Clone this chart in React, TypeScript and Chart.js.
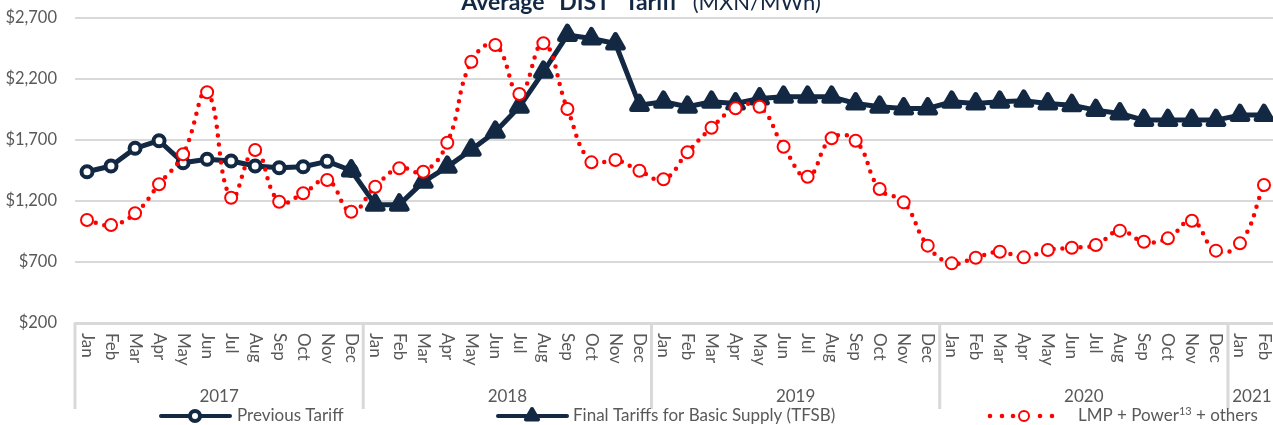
import React, { useEffect, useRef } from 'react';
import { Chart, registerables } from 'chart.js';

Chart.register(...registerables);

const months = [
  'Jan', 'Feb', 'Mar', 'Apr', 'May', 'Jun', 'Jul', 'Aug', 'Sep', 'Oct', 'Nov', 'Dec',
  'Jan', 'Feb', 'Mar', 'Apr', 'May', 'Jun', 'Jul', 'Aug', 'Sep', 'Oct', 'Nov', 'Dec',
  'Jan', 'Feb', 'Mar', 'Apr', 'May', 'Jun', 'Jul', 'Aug', 'Sep', 'Oct', 'Nov', 'Dec',
  'Jan', 'Feb', 'Mar', 'Apr', 'May', 'Jun', 'Jul', 'Aug', 'Sep', 'Oct', 'Nov', 'Dec',
  'Jan', 'Feb',
];
const yearLabels = ['2017', '2018', '2019', '2020', '2021'];
const yearSpans = [12, 12, 12, 12, 2];

const previousTariff = [
  1440, 1487, 1632, 1694, 1514, 1542, 1528, 1487, 1473, 1481, 1525, 1450,
  null, null, null, null, null, null, null, null, null, null, null, null,
  null, null, null, null, null, null, null, null, null, null, null, null,
  null, null, null, null, null, null, null, null, null, null, null, null,
  null, null,
];
const finalTariffs = [
  null, null, null, null, null, null, null, null, null, null, null, 1450,
  1170, 1170, 1357, 1480, 1620, 1767, 1972, 2259, 2560, 2532, 2491, 1986,
  2013, 1972, 2013, 1999, 2040, 2054, 2054, 2054, 1999, 1972, 1958, 1958,
  2013, 1999, 2013, 2021, 1999, 1985, 1945, 1917, 1863, 1863, 1863, 1863,
  1904, 1904,
];
const lmpPowerOthers = [
  1044, 1003, 1099, 1337, 1583, 2091, 1227, 1618, 1194, 1263, 1372, 1112,
  1317, 1468, 1440, 1678, 2342, 2479, 2077, 2493, 1954, 1517, 1536, 1448,
  1378, 1599, 1801, 1960, 1973, 1645, 1399, 1714, 1694, 1298, 1189, 834,
  689, 735, 784, 738, 798, 817, 839, 957, 866, 894, 1038, 793,
  853, 1331,
];

const NAVY = '#132843';
const RED = '#ff0000';
const GRAY_TEXT = '#595959';
const GRID = '#d9d9d9';
const FONT = 'Lato';

const decorPlugin = {
  id: 'decor',
  beforeDatasetsDraw(chart: any) {
    chart.ctx.lineJoin = 'round';
  },
  afterDraw(chart: any) {
    const ctx = chart.ctx as CanvasRenderingContext2D;
    const xs = chart.scales.x;
    const area = chart.chartArea;
    ctx.save();

    // month labels (rotated clockwise)
    ctx.fillStyle = GRAY_TEXT;
    ctx.font = `17px ${FONT}`;
    ctx.textAlign = 'left';
    ctx.textBaseline = 'middle';
    months.forEach((m, i) => {
      const x = xs.getPixelForValue(i);
      ctx.save();
      ctx.translate(x, area.bottom + 10);
      ctx.rotate(Math.PI / 2);
      ctx.fillText(m, 0, 0);
      ctx.restore();
    });

    // year separators and labels
    const step = xs.getPixelForValue(1) - xs.getPixelForValue(0);
    ctx.strokeStyle = GRID;
    ctx.lineWidth = 3;
    let start = 0;
    ctx.font = `17px ${FONT}`;
    ctx.textAlign = 'center';
    yearLabels.forEach((yl, k) => {
      const x0 = xs.getPixelForValue(start) - step / 2;
      const x1 = xs.getPixelForValue(start + yearSpans[k] - 1) + step / 2;
      ctx.beginPath();
      ctx.moveTo(x0, area.bottom);
      ctx.lineTo(x0, 409);
      ctx.stroke();
      if (k === yearLabels.length - 1) {
        ctx.beginPath();
        ctx.moveTo(x1, area.bottom);
        ctx.lineTo(x1, 409);
        ctx.stroke();
      }
      ctx.fillText(yl, (x0 + x1) / 2, 397);
      start += yearSpans[k];
    });

    // legend
    const ly = 416;
    ctx.lineCap = 'round';
    ctx.lineJoin = 'round';
    // Previous Tariff
    ctx.strokeStyle = NAVY;
    ctx.lineWidth = 4;
    ctx.beginPath();
    ctx.moveTo(161, ly);
    ctx.lineTo(230, ly);
    ctx.stroke();
    ctx.beginPath();
    ctx.arc(195, ly, 5, 0, Math.PI * 2);
    ctx.fillStyle = '#ffffff';
    ctx.fill();
    ctx.lineWidth = 4;
    ctx.stroke();
    // TFSB
    ctx.beginPath();
    ctx.moveTo(498, ly);
    ctx.lineTo(567, ly);
    ctx.stroke();
    ctx.beginPath();
    const tr = 7;
    ctx.moveTo(532, ly - tr);
    ctx.lineTo(532 + tr * Math.sin((2 * Math.PI) / 3), ly - tr * Math.cos((2 * Math.PI) / 3));
    ctx.lineTo(532 + tr * Math.sin((4 * Math.PI) / 3), ly - tr * Math.cos((4 * Math.PI) / 3));
    ctx.closePath();
    ctx.fillStyle = NAVY;
    ctx.fill();
    ctx.lineWidth = 4;
    ctx.stroke();
    // LMP
    ctx.fillStyle = RED;
    [990, 1002, 1013, 1040, 1052].forEach((dx) => {
      ctx.beginPath();
      ctx.arc(dx, ly, 2.3, 0, Math.PI * 2);
      ctx.fill();
    });
    ctx.beginPath();
    ctx.arc(1024, ly, 5, 0, Math.PI * 2);
    ctx.fillStyle = '#ffffff';
    ctx.fill();
    ctx.strokeStyle = RED;
    ctx.lineWidth = 2;
    ctx.stroke();

    ctx.fillStyle = GRAY_TEXT;
    ctx.font = `17px ${FONT}`;
    ctx.textAlign = 'left';
    ctx.textBaseline = 'middle';
    ctx.fillText('Previous Tariff', 237, ly);
    ctx.fillText('Final Tariffs for Basic Supply (TFSB)', 573, ly);
    const p1 = 'LMP + Power';
    ctx.fillText(p1, 1078, ly);
    let px = 1078 + ctx.measureText(p1).width;
    ctx.font = `11px ${FONT}`;
    ctx.fillText('13', px, ly - 5);
    px += ctx.measureText('13').width;
    ctx.font = `17px ${FONT}`;
    ctx.fillText(' + others', px, ly);

    // title
    const t1 = 'Average "DIST" Tariff';
    const t2 = '(MXN/MWh)';
    const gap = 15;
    ctx.font = `bold 23px ${FONT}`;
    const w1 = ctx.measureText(t1).width;
    ctx.font = `22px ${FONT}`;
    const w2 = ctx.measureText(t2).width;
    const tx = 641 - (w1 + gap + w2) / 2;
    ctx.textBaseline = 'alphabetic';
    ctx.fillStyle = NAVY;
    ctx.font = `bold 23px ${FONT}`;
    ctx.fillText(t1, tx, 10);
    ctx.font = `22px ${FONT}`;
    ctx.fillText(t2, tx + w1 + gap, 10);

    ctx.restore();
  },
};

export default function App() {
  const canvasRef = useRef<HTMLCanvasElement | null>(null);

  useEffect(() => {
    if (!canvasRef.current) return;
    const chart = new Chart(canvasRef.current, {
      type: 'line',
      data: {
        labels: months,
        datasets: [
          {
            label: 'LMP + Power13 + others',
            data: lmpPowerOthers,
            order: 0,
            borderColor: RED,
            borderWidth: 4.5,
            borderDash: [0, 9],
            borderCapStyle: 'round',
            tension: 0.45,
            pointRadius: 6,
            pointBorderWidth: 2,
            pointBorderColor: RED,
            pointBackgroundColor: '#ffffff',
            pointStyle: 'circle',
          },
          {
            label: 'Final Tariffs for Basic Supply (TFSB)',
            data: finalTariffs,
            order: 1,
            borderColor: NAVY,
            borderWidth: 5,
            borderJoinStyle: 'round',
            tension: 0,
            pointStyle: 'triangle',
            pointRadius: 9,
            pointBorderWidth: 5,
            pointBorderColor: NAVY,
            pointBackgroundColor: NAVY,
          },
          {
            label: 'Previous Tariff',
            data: previousTariff,
            order: 2,
            borderColor: NAVY,
            borderWidth: 5,
            borderJoinStyle: 'round',
            tension: 0,
            pointStyle: 'circle',
            pointRadius: 5.5,
            pointBorderWidth: 4,
            pointBorderColor: NAVY,
            pointBackgroundColor: '#ffffff',
          },
        ],
      },
      options: {
        responsive: false,
        animation: false,
        layout: { padding: { top: 18, right: 12, left: 0, bottom: 0 } },
        plugins: {
          legend: { display: false },
          title: { display: false },
          tooltip: { enabled: false },
        },
        scales: {
          x: {
            type: 'category',
            offset: true,
            grid: { display: false },
            border: { display: true, color: GRID, width: 3 },
            ticks: { display: false },
            afterFit: (s: any) => {
              s.height = 102;
              s.paddingLeft = 0;
              s.paddingRight = 0;
            },
          },
          y: {
            min: 200,
            max: 2700,
            grid: { color: GRID, lineWidth: 2, drawTicks: false },
            border: { display: false },
            ticks: {
              stepSize: 500,
              padding: 18,
              color: GRAY_TEXT,
              font: { family: FONT, size: 16.5 },
              callback: (v: any) => '$' + Number(v).toLocaleString('en-US'),
            },
            afterFit: (s: any) => {
              s.width = 75;
              s.paddingTop = 0;
              s.paddingBottom = 0;
            },
          },
        },
      },
      plugins: [decorPlugin],
    });
    return () => chart.destroy();
  }, []);

  return (
    <div style={{ position: 'fixed', left: 0, top: 0, width: 1273, height: 425, overflow: 'hidden', background: '#fff' }}>
      <canvas ref={canvasRef} width={1290} height={425} style={{ display: 'block' }} />
    </div>
  );
}
